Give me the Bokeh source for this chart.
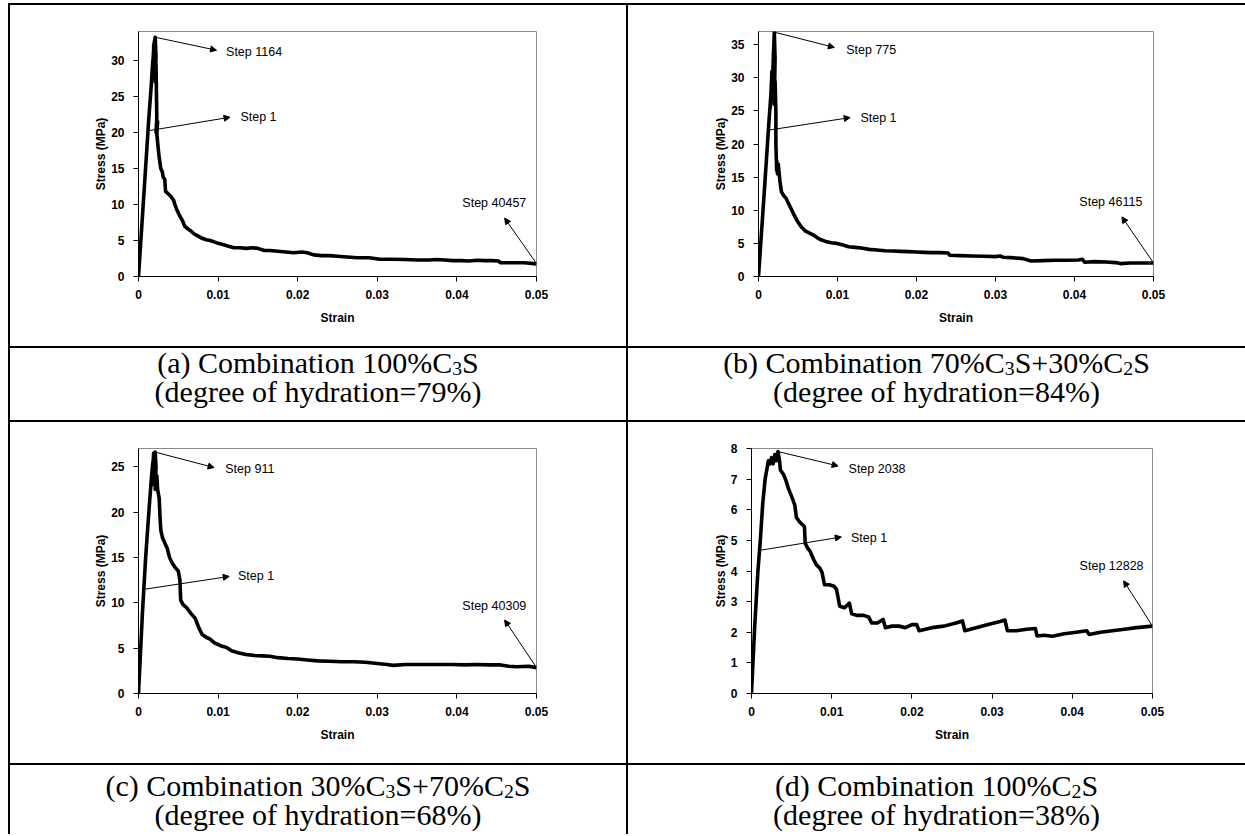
from bokeh.plotting import figure
from bokeh.models import Range1d, FixedTicker, NumeralTickFormatter, Arrow, NormalHead, Label, Div
from bokeh.layouts import column, row
from bokeh.embed import file_html
from bokeh.resources import INLINE

# ---------------- data ----------------
x_ticks = [0, 0.01, 0.02, 0.03, 0.04, 0.05]

a_strain = [0, 0.0008, 0.0013, 0.0016, 0.0018, 0.0017, 0.0019, 0.0020, 0.0019, 0.0021, 0.0022, 0.0021,
            0.0022, 0.0023, 0.0022, 0.0024, 0.0023, 0.0025, 0.0026, 0.0028, 0.0030, 0.0031, 0.0033, 0.0034,
            0.0036, 0.0040, 0.0044, 0.0046, 0.0048, 0.0051, 0.0055, 0.0058, 0.0062, 0.0066, 0.0070, 0.0075,
            0.0080, 0.0085, 0.0090, 0.0095, 0.0100, 0.0107, 0.0113, 0.0120, 0.0128, 0.0135, 0.0143, 0.0150,
            0.0158, 0.0165, 0.0175, 0.0185, 0.0195, 0.0205, 0.0212, 0.0220, 0.0230, 0.0240, 0.0250, 0.0262,
            0.0275, 0.0290, 0.0303, 0.0318, 0.0335, 0.0350, 0.0365, 0.0375, 0.0385, 0.0395, 0.0405, 0.0415,
            0.0425, 0.0435, 0.0445, 0.0452, 0.0455, 0.0470, 0.0485, 0.0500]
a_stress = [0, 13.5, 22, 26.5, 30, 27.5, 31.5, 28, 32, 33.2, 30.5, 27,
            29.5, 22, 20, 21.5, 19.8, 17.5, 16.5, 15, 14.5, 13.8, 13.5, 11.8,
            11.6, 11.2, 10.6, 9.9, 9.3, 8.6, 7.8, 7.0, 6.6, 6.3, 5.9, 5.6,
            5.3, 5.1, 5.0, 4.8, 4.6, 4.4, 4.2, 4.0, 4.0, 3.9, 4.0, 3.9,
            3.6, 3.6, 3.5, 3.4, 3.3, 3.4, 3.3, 3.0, 2.9, 2.9, 2.8, 2.7,
            2.6, 2.6, 2.4, 2.4, 2.35, 2.3, 2.3, 2.35, 2.3, 2.2, 2.2, 2.15,
            2.25, 2.2, 2.2, 2.15, 1.9, 1.9, 1.9, 1.75]

b_strain = [0, 0.0008, 0.0013, 0.0016, 0.0015, 0.0017, 0.0018, 0.0019, 0.0018, 0.0020, 0.0021, 0.0020,
            0.0021, 0.0022, 0.0022, 0.0023, 0.0023, 0.0024, 0.0025, 0.0027, 0.0029, 0.0032, 0.0035, 0.0038,
            0.0041, 0.0045, 0.0049, 0.0054, 0.0059, 0.0064, 0.0069, 0.0075, 0.0080, 0.0085, 0.0092, 0.0099,
            0.0106, 0.0114, 0.0122, 0.0130, 0.0140, 0.0150, 0.0160, 0.0170, 0.0180, 0.0190, 0.0200, 0.0210,
            0.0220, 0.0230, 0.0240, 0.0242, 0.0255, 0.0270, 0.0285, 0.0300, 0.0306, 0.0310, 0.0320, 0.0335,
            0.0345, 0.0360, 0.0375, 0.0390, 0.0405, 0.0410, 0.0413, 0.0425, 0.0440, 0.0452, 0.0458, 0.0470,
            0.0485, 0.0500]
b_stress = [0, 14, 23, 28, 25.5, 31, 27, 34, 30, 36.9, 33, 26,
            29.5, 25, 20, 16, 17.5, 15.5, 17, 14.5, 12.8, 12.2, 11.8, 11.0,
            10.3, 9.3, 8.4, 7.5, 6.9, 6.6, 6.3, 5.8, 5.5, 5.3, 5.1, 5.0,
            4.8, 4.5, 4.4, 4.3, 4.1, 4.0, 3.9, 3.85, 3.8, 3.75, 3.7, 3.65,
            3.6, 3.6, 3.55, 3.2, 3.15, 3.1, 3.05, 3.0, 3.1, 2.9, 2.85, 2.7,
            2.35, 2.4, 2.45, 2.45, 2.5, 2.6, 2.15, 2.25, 2.2, 2.1, 1.95, 2.05,
            2.05, 2.05]

c_strain = [0, 0.0005, 0.0009, 0.0013, 0.0016, 0.0018, 0.0017, 0.0019, 0.0020, 0.0021, 0.0022, 0.0021,
            0.0023, 0.0024, 0.0026, 0.0027, 0.0028, 0.0030, 0.0033, 0.0036, 0.0039, 0.0042, 0.0046, 0.0050,
            0.0052, 0.0053, 0.0056, 0.0061, 0.0066, 0.0071, 0.0076, 0.0080, 0.0085, 0.0090, 0.0095, 0.0100,
            0.0105, 0.0110, 0.0117, 0.0125, 0.0135, 0.0145, 0.0155, 0.0165, 0.0175, 0.0188, 0.0200, 0.0212,
            0.0225, 0.0240, 0.0255, 0.0270, 0.0285, 0.0300, 0.0312, 0.0320, 0.0335, 0.0350, 0.0365, 0.0380,
            0.0395, 0.0410, 0.0425, 0.0440, 0.0455, 0.0465, 0.0475, 0.0490, 0.0500]
c_stress = [0, 9, 15, 20, 23.5, 25.5, 23, 26.5, 24.5, 26.6, 25, 22.5,
            24, 22.5, 21.5, 19.5, 18, 17.2, 16.6, 16.0, 15.0, 14.4, 13.9, 13.5,
            12.5, 10.3, 9.8, 9.4, 8.8, 8.3, 7.2, 6.5, 6.2, 6.0, 5.6, 5.4,
            5.2, 5.1, 4.7, 4.5, 4.3, 4.2, 4.15, 4.1, 3.95, 3.85, 3.8, 3.7,
            3.6, 3.55, 3.5, 3.5, 3.45, 3.3, 3.2, 3.1, 3.2, 3.2, 3.2, 3.2,
            3.2, 3.15, 3.2, 3.15, 3.15, 3.0, 2.95, 3.0, 2.85]

d_strain = [0, 0.0004, 0.0008, 0.0011, 0.0014, 0.0017, 0.0019, 0.0021, 0.0023, 0.0025, 0.0027, 0.0029,
            0.0031, 0.0033, 0.0035, 0.0036, 0.0040, 0.0043, 0.0046, 0.0049, 0.0052, 0.0054, 0.0056, 0.0060,
            0.0064, 0.0066, 0.0067, 0.0070, 0.0073, 0.0077, 0.0081, 0.0085, 0.0088, 0.0091, 0.0097, 0.0103,
            0.0106, 0.0110, 0.0116, 0.0122, 0.0125, 0.0132, 0.0140, 0.0146, 0.0150, 0.0157, 0.0164, 0.0167,
            0.0175, 0.0184, 0.0192, 0.0200, 0.0206, 0.0209, 0.0225, 0.0240, 0.0255, 0.0263, 0.0266, 0.0280,
            0.0295, 0.0310, 0.0316, 0.0319, 0.0330, 0.0343, 0.0354, 0.0356, 0.0365, 0.0375, 0.0390, 0.0405,
            0.0418, 0.0421, 0.0435, 0.0450, 0.0465, 0.0480, 0.0500]
d_stress = [0, 2.2, 4.0, 5.0, 6.2, 7.0, 7.3, 7.6, 7.5, 7.7, 7.5, 7.8,
            7.6, 7.9, 7.6, 7.3, 7.15, 6.95, 6.7, 6.5, 6.3, 6.15, 5.75, 5.6,
            5.5, 5.45, 4.9, 4.75, 4.65, 4.4, 4.2, 4.1, 3.95, 3.55, 3.55, 3.5,
            3.4, 2.85, 2.8, 2.95, 2.6, 2.55, 2.55, 2.5, 2.3, 2.3, 2.42, 2.15,
            2.2, 2.2, 2.15, 2.25, 2.25, 2.05, 2.15, 2.2, 2.3, 2.37, 2.05, 2.15,
            2.25, 2.35, 2.4, 2.05, 2.05, 2.1, 2.12, 1.88, 1.9, 1.87, 1.95, 2.0,
            2.05, 1.93, 2.0, 2.05, 2.1, 2.15, 2.2]

y_max = [34, 37, 27, 8]
y_ticks_a = [0, 5, 10, 15, 20, 25, 30]
y_ticks_b = [0, 5, 10, 15, 20, 25, 30, 35]
y_ticks_c = [0, 5, 10, 15, 20, 25]
y_ticks_d = [0, 1, 2, 3, 4, 5, 6, 7, 8]

# annotations: (label, arrow start x, y, arrow end x, y, text x, y, anchor)
ann_a = [("Step 1164", 0.0021, 33.2, 0.0098, 31.4, 0.0110, 31.1, "left"),
         ("Step 1", 0.0011, 20.2, 0.0115, 22.1, 0.0128, 22.1, "left"),
         ("Step 40457", 0.0500, 1.8, 0.0460, 8.1, 0.0447, 10.2, "center")]
ann_b = [("Step 775", 0.0020, 36.9, 0.0096, 34.6, 0.0111, 34.2, "left"),
         ("Step 1", 0.00125, 22.1, 0.0116, 24.0, 0.0129, 24.0, "left"),
         ("Step 46115", 0.0500, 2.05, 0.0460, 9.0, 0.0446, 11.3, "center")]
ann_c = [("Step 911", 0.0021, 26.6, 0.0095, 24.9, 0.0109, 24.7, "left"),
         ("Step 1", 0.00084, 11.5, 0.0114, 12.9, 0.0125, 12.9, "left"),
         ("Step 40309", 0.0500, 2.85, 0.0460, 8.1, 0.0447, 9.6, "center")]
ann_d = [("Step 2038", 0.0033, 7.9, 0.0108, 7.43, 0.0121, 7.32, "left"),
         ("Step 1", 0.00118, 4.68, 0.0112, 5.11, 0.0124, 5.09, "left"),
         ("Step 12828", 0.0500, 2.2, 0.0464, 3.68, 0.0449, 4.17, "center")]

captions = [
    ("(a) Combination 100%C<sub>3</sub>S", "(degree of hydration=79%)"),
    ("(b) Combination 70%C<sub>3</sub>S+30%C<sub>2</sub>S", "(degree of hydration=84%)"),
    ("(c) Combination 30%C<sub>3</sub>S+70%C<sub>2</sub>S", "(degree of hydration=68%)"),
    ("(d) Combination 100%C<sub>2</sub>S", "(degree of hydration=38%)"),
]

SANS = "Liberation Sans"


def make_chart(xs, ys, ymax, yticks, ann, width, height, left, right, top, bottom):
    p = figure(width=width, height=height, x_range=Range1d(0, 0.05), y_range=Range1d(0, ymax),
               output_backend="svg", toolbar_location=None,
               min_border_left=left, min_border_right=right,
               min_border_top=top, min_border_bottom=bottom, margin=0)
    p.background_fill_color = "white"
    p.border_fill_color = "white"
    p.outline_line_color = "#8c8c8c"
    p.outline_line_width = 1
    p.grid.visible = False
    p.line(xs, ys, line_color="black", line_width=3.6, line_join="round")

    p.xaxis.ticker = FixedTicker(ticks=x_ticks)
    p.xaxis.formatter = NumeralTickFormatter(format="0.[00]")
    p.yaxis.ticker = FixedTicker(ticks=yticks)
    for ax in (p.xaxis[0], p.yaxis[0]):
        ax.axis_line_color = "black"
        ax.axis_line_width = 1
        ax.major_tick_line_color = "black"
        ax.major_tick_in = 0
        ax.major_tick_out = 5
        ax.minor_tick_line_color = None
        ax.major_label_text_font = SANS
        ax.major_label_text_font_size = "12px"
        ax.major_label_text_font_style = "bold"
        ax.major_label_text_color = "black"
        ax.axis_label_text_font = SANS
        ax.axis_label_text_font_size = "12px"
        ax.axis_label_text_font_style = "bold"
        ax.axis_label_text_color = "black"
    p.xaxis.axis_label = "Strain"
    p.yaxis.axis_label = "Stress (MPa)"
    p.xaxis.major_label_standoff = 8
    p.xaxis.axis_label_standoff = 9
    p.yaxis.major_label_standoff = 9
    p.yaxis.axis_label_standoff = 0

    for (txt, xs0, ys0, xe, ye, tx, ty, anchor) in ann:
        p.add_layout(Arrow(end=NormalHead(size=6, fill_color="black", line_color="black", line_width=1),
                           x_start=xs0, y_start=ys0, x_end=xe, y_end=ye,
                           line_color="black", line_width=1))
        p.add_layout(Label(x=tx, y=ty, text=txt, text_font=SANS, text_font_size="12.5px",
                           text_color="black", text_align=anchor, text_baseline="middle"))
    return p


def hline(w):
    return Div(text="", width=w, height=2, margin=0, styles={"background-color": "black"})


def vline(h):
    return Div(text="", width=2, height=h, margin=0, styles={"background-color": "black"})


def spacer(w, h):
    return Div(text="", width=w, height=h, margin=0)


def caption(lines, w, h, pad):
    html = ('<div style="width:%dpx;text-align:center;font-family:\'Liberation Serif\';font-size:30px;'
            'line-height:29px;color:black;padding-top:%dpx;">%s<br>%s</div>' % (w, pad, lines[0], lines[1]))
    html = html.replace("<sub>", '<sub style="font-size:0.66em;vertical-align:-0.12em;line-height:0;">')
    return Div(text=html, width=w, height=h, margin=0)


LEFT_PAD, TOP_PAD = 8, 3
WL, WR = 616, 617
H1, HC1, H2, HC2 = 341, 72, 341, 69
TOTAL_W = 2 + WL + 2 + WR

pa = make_chart(a_strain, a_stress, y_max[0], y_ticks_a, ann_a, WL, H1, 128, 90, 26, 70)
pb = make_chart(b_strain, b_stress, y_max[1], y_ticks_b, ann_b, WR, H1, 130, 92, 26, 70)
pc = make_chart(c_strain, c_stress, y_max[2], y_ticks_c, ann_c, WL, H2, 128, 90, 26, 70)
pd = make_chart(d_strain, d_stress, y_max[3], y_ticks_d, ann_d, WR, H2, 123, 93, 26, 70)

table = column(
    hline(TOTAL_W),
    row(vline(H1), pa, vline(H1), pb, spacing=0, margin=0),
    hline(TOTAL_W),
    row(vline(HC1), caption(captions[0], WL, HC1, 0), vline(HC1), caption(captions[1], WR, HC1, 0),
        spacing=0, margin=0),
    hline(TOTAL_W),
    row(vline(H2), pc, vline(H2), pd, spacing=0, margin=0),
    hline(TOTAL_W),
    row(vline(HC2), caption(captions[2], WL, HC2, 6), vline(HC2), caption(captions[3], WR, HC2, 6),
        spacing=0, margin=0),
    spacing=0, margin=0,
)

layout = column(spacer(10, TOP_PAD), row(spacer(LEFT_PAD, 10), table, spacing=0, margin=0),
                spacing=0, margin=0)

open("out.html", "w").write(file_html(layout, INLINE))
